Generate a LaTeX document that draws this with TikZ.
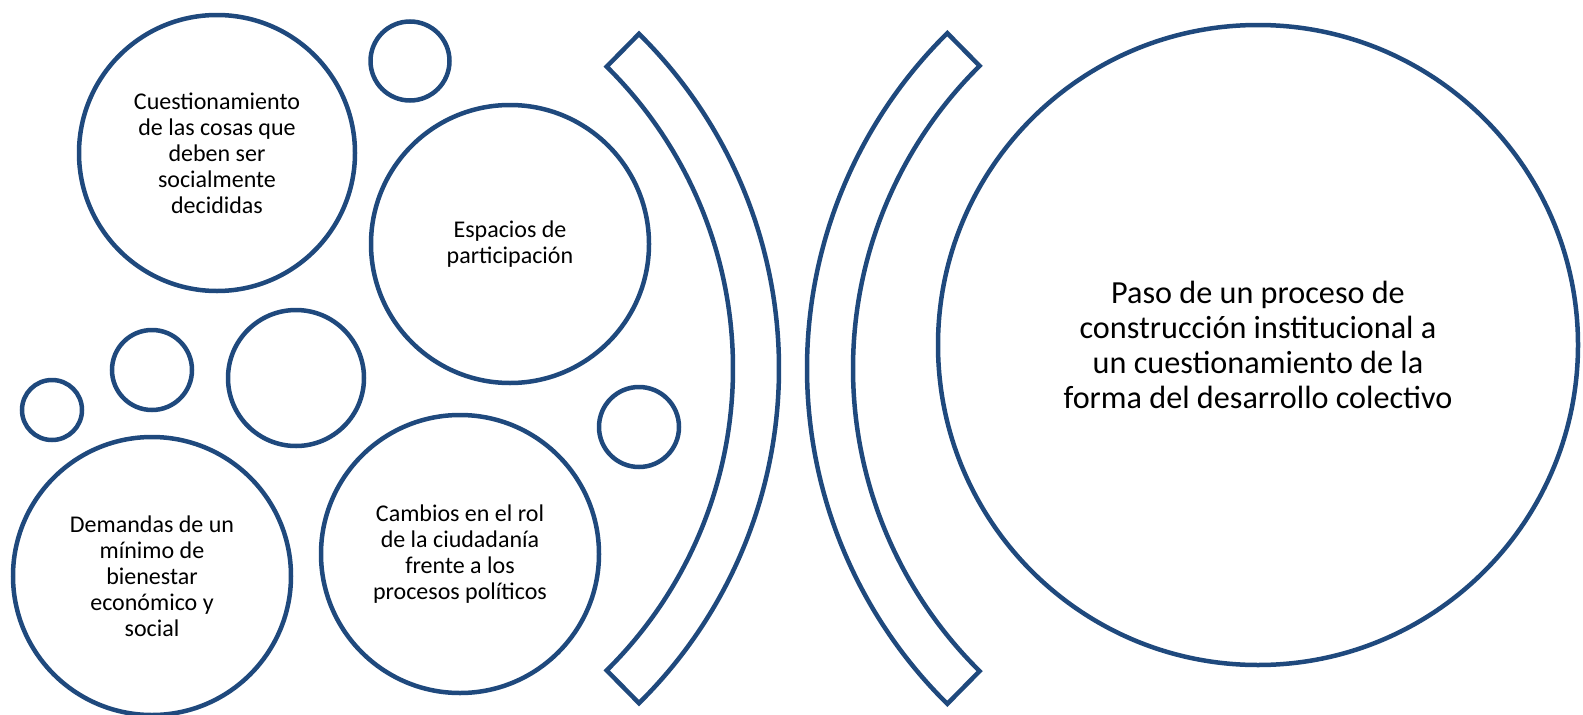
\documentclass[tikz,border=0pt]{standalone}
\usepackage{fontspec}
\setmainfont{Carlito}
\usepackage{xcolor}
\definecolor{navy}{RGB}{31,73,125}

\begin{document}
\begin{tikzpicture}[x=1pt, y=-1pt,
    bubble/.style={circle, draw=navy, line width=4.5pt, inner sep=0pt, align=center},
    smalltext/.style={font=\fontsize{24}{26}\selectfont},
    bigtext/.style={font=\fontsize{32.2}{35}\selectfont},
    band/.style={draw=navy, line width=4.5pt}]
  \useasboundingbox (0,0) rectangle (1583,715);

  % bubbles with text
  \node[bubble, smalltext, minimum size=276pt] (cuest) at (217,153) {Cuestionamiento\\de las cosas que\\deben ser\\socialmente\\decididas};
  \node[bubble, smalltext, minimum size=278pt] (espacios) at (510,244) {Espacios de\\participación};
  \node[bubble, smalltext, minimum size=278pt] (demandas) at (152,576) {Demandas de un\\mínimo de\\bienestar\\económico y\\social};
  \node[bubble, smalltext, minimum size=278pt] (cambios) at (460,554) {Cambios en el rol\\de la ciudadanía\\frente a los\\procesos políticos};
  \node[bubble, bigtext, minimum size=640pt] (paso) at (1258,345) {Paso de un proceso de\\construcción institucional a\\un cuestionamiento de la\\forma del desarrollo colectivo};

  % empty bubbles
  \node[bubble, minimum size=79pt] (dotA) at (410,61) {};
  \node[bubble, minimum size=60pt] (dotB) at (52,410) {};
  \node[bubble, minimum size=80pt] (dotC) at (152,370) {};
  \node[bubble, minimum size=136pt] (dotD) at (296,378) {};
  \node[bubble, minimum size=80pt] (dotE) at (639,427) {};

  % the two arc bands
  \coordinate (lc) at (309,368.5);
  \coordinate (rc) at (1278,368.5);
  \draw[band] ([shift={(-45.4:424pt)}]lc) arc[start angle=-45.4, end angle=45.4, radius=424pt]
    -- ([shift={(45.4:470pt)}]lc) arc[start angle=45.4, end angle=-45.4, radius=470pt] -- cycle;
  \draw[band] ([shift={(134.6:425pt)}]rc) arc[start angle=134.6, end angle=225.4, radius=425pt]
    -- ([shift={(225.4:471pt)}]rc) arc[start angle=225.4, end angle=134.6, radius=471pt] -- cycle;
\end{tikzpicture}
\end{document}
